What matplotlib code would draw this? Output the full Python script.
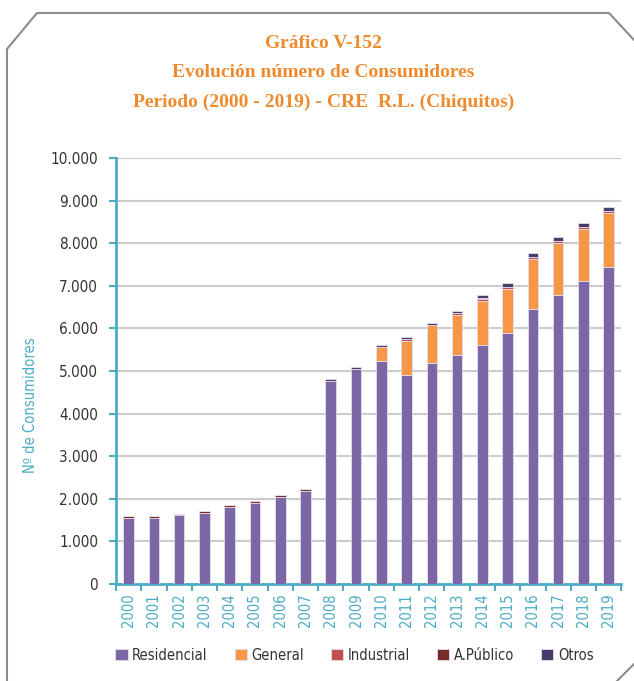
import matplotlib
matplotlib.use('Agg')
import matplotlib.pyplot as plt
from matplotlib import font_manager
from matplotlib.font_manager import FontProperties
from matplotlib.lines import Line2D
import numpy as np

years = [str(y) for y in range(2000, 2020)]
residencial = [1560, 1560, 1610, 1665, 1805, 1900, 2040, 2175, 4765, 5045,
               5230, 4900, 5185, 5375, 5610, 5895, 6455, 6785, 7110, 7440]
general = [0, 0, 0, 0, 0, 0, 0, 0, 0, 0,
           330, 800, 890, 940, 1030, 1030, 1175, 1225, 1230, 1275]
industrial = [0, 0, 0, 0, 0, 0, 0, 0, 10, 10,
              10, 40, 15, 40, 45, 45, 55, 45, 45, 45]
a_publico = [40, 40, 45, 48, 48, 48, 48, 48, 0, 0,
             0, 0, 0, 0, 40, 10, 0, 0, 0, 0]
otros = [0, 0, 0, 0, 0, 0, 0, 0, 35, 40,
         40, 50, 45, 50, 60, 75, 85, 85, 85, 85]

series = [('Residencial', residencial, '#7b67a6'),
          ('General', general, '#f79646'),
          ('Industrial', industrial, '#c0504d'),
          ('A.Público', a_publico, '#772c2a'),
          ('Otros', otros, '#4a3c68')]


def find_font(test, fallback):
    for f in font_manager.fontManager.ttflist:
        if test(f):
            return f.fname, True
    return fallback, False


narrow_path, have_narrow = find_font(
    lambda f: ('Narrow' in f.name or f.stretch in ('condensed', 'semi-condensed')
               or 'Condensed' in f.fname) and 'Serif' not in f.name and 'Mono' not in f.name
    and f.weight in (400, 'normal', 'regular') and f.style == 'normal', None)
title_path, have_title = find_font(
    lambda f: f.name == 'Liberation Serif' and f.weight in (700, 'bold') and f.style == 'normal', None)


def fp(size):
    if have_narrow:
        return FontProperties(fname=narrow_path, size=size)
    return FontProperties(family='DejaVu Sans', size=size * 0.85)


teal = '#4bacc6'

fig = plt.figure(figsize=(6.34, 6.81), dpi=100)
ax = fig.add_axes([0.183, 0.1424, 0.797, 0.6256])

x = np.arange(len(years))
bottom = np.zeros(len(years))
for name, vals, col in series:
    ax.bar(x, vals, 0.42, bottom=bottom, color=col, edgecolor='#e4deec',
           linewidth=0.6, label=name, zorder=3)
    bottom += np.array(vals)

ax.set_xlim(-0.5, len(years) - 0.5)
ax.set_ylim(0, 10000)
ax.set_yticks(range(0, 10001, 1000))
ax.set_yticklabels(['0' if v == 0 else f'{v // 1000}.000' for v in range(0, 10001, 1000)],
                   fontproperties=fp(11), color='#333333')
ax.set_xticks(x)
ax.set_xticklabels(years, rotation=90, fontproperties=fp(10.5), color=teal)
ax.set_xticks(np.arange(-0.5, len(years)), minor=True)
ax.tick_params(axis='x', which='major', length=0, pad=7)
ax.tick_params(axis='x', which='minor', length=5, width=1.5, color=teal)
ax.tick_params(axis='y', length=5, width=1.5, color=teal, pad=8)
ax.grid(axis='y', color='#cccccc', linewidth=1.5, zorder=0)
for s in ['top', 'right']:
    ax.spines[s].set_visible(False)
for s in ['left', 'bottom']:
    ax.spines[s].set_color(teal)
    ax.spines[s].set_linewidth(2)
ax.set_ylabel('Nº de Consumidores', fontproperties=fp(10.5), color=teal)
ax.yaxis.set_label_coords(-0.154, 0.42)

title_fp = FontProperties(fname=title_path, size=14) if have_title else \
    FontProperties(family='DejaVu Serif', weight='bold', size=12)
fig.text(0.51, 0.893, 'Gráfico V-152\nEvolución número de Consumidores\nPeriodo (2000 - 2019) - CRE  R.L. (Chiquitos)',
         ha='center', va='center', fontproperties=title_fp, color='#ef8a2e', linespacing=1.95)

fig.legend(loc='center', bbox_to_anchor=(0.559, 0.038), ncol=5, frameon=False,
           prop=fp(10.5), handlelength=0.85, handleheight=0.85,
           handletextpad=0.3, columnspacing=1.85, labelcolor='#333333')

# frame with cut corners
W, H = 634, 681
pts = [(7, 681), (7, 49), (37, 13), (609, 13), (634, 40)]
fig.add_artist(Line2D([p[0] / W for p in pts], [1 - p[1] / H for p in pts],
                      color='#8c8c8c', linewidth=1.5, transform=fig.transFigure))
fig.add_artist(Line2D([634 / W, 617 / W], [1 - 664 / H, 0], color='#8c8c8c',
                      linewidth=1.5, transform=fig.transFigure))

fig.savefig('out.png', dpi=100)
